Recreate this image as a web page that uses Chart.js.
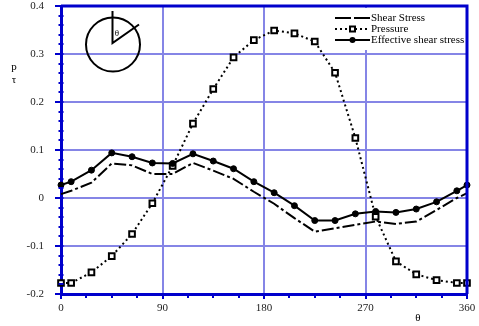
<!DOCTYPE html>
<html>
<head>
<meta charset="utf-8">
<script src="https://cdn.jsdelivr.net/npm/chart.js@4.4.1/dist/chart.umd.min.js"></script>
<style>
    html, body { margin: 0; padding: 0; background: #fff; }
    #contenedor { width: 479px; height: 326px; }
</style>
</head>
<body>
<div id="contenedor"><canvas id="grafico" width="479" height="326"></canvas></div>
<script>
// Datos
const angulos = [0, 9, 27, 45, 63, 81, 99, 117, 135, 153, 171, 189, 207, 225, 243, 261, 279, 297, 315, 333, 351, 360];
const cortante = [0.008, 0.015, 0.032, 0.072, 0.068, 0.050, 0.050, 0.073, 0.057, 0.040, 0.013, -0.012, -0.042, -0.070, -0.063, -0.056, -0.049, -0.054, -0.049, -0.025, 0.000, 0.010];
const presion = [-0.177, -0.177, -0.155, -0.121, -0.075, -0.011, 0.067, 0.155, 0.227, 0.293, 0.329, 0.349, 0.343, 0.326, 0.261, 0.125, -0.039, -0.132, -0.159, -0.171, -0.177, -0.177];
const cortanteEfectivo = [0.027, 0.034, 0.058, 0.094, 0.086, 0.073, 0.072, 0.092, 0.077, 0.061, 0.034, 0.011, -0.016, -0.047, -0.047, -0.033, -0.028, -0.030, -0.023, -0.008, 0.015, 0.027];
const ticksX = [0, 90, 180, 270, 360];
const ticksY = [-0.2, -0.1, 0, 0.1, 0.2, 0.3, 0.4];
const etiquetas = ['Shear Stress', 'Pressure', 'Effective shear stress'];

const fuente = 'Liberation Serif';
const azulEje = '#0000cc';
const azulGrilla = '#8585e6';

function puntos(valores) {
    return angulos.map((a, i) => ({ x: a, y: valores[i] }));
}

// Bordes, marcas menores, leyenda, esquema del circulo y rotulos
const decoracion = {
    id: 'decoracion',
    afterDraw(chart) {
        const ctx = chart.ctx;
        const area = chart.chartArea;
        const sx = chart.scales.x;
        const sy = chart.scales.y;

        ctx.save();
        // marcas menores
        ctx.strokeStyle = azulEje;
        ctx.lineWidth = 2;
        for (let v = -0.2; v <= 0.4001; v += 0.02) {
            const y = Math.round(sy.getPixelForValue(v));
            ctx.beginPath();
            ctx.moveTo(area.left - 2.5, y);
            ctx.lineTo(area.left + 2.5, y);
            ctx.stroke();
        }
        for (let v = 0; v <= 360; v += 22.5) {
            const x = Math.round(sx.getPixelForValue(v));
            ctx.beginPath();
            ctx.moveTo(x, area.bottom);
            ctx.lineTo(x, area.bottom + 4);
            ctx.stroke();
        }

        // leyenda
        ctx.fillStyle = '#fff';
        ctx.fillRect(333, 8, area.right - 334.5, 42);
        const metas = [0, 1, 2].map(i => chart.data.datasets[i]);
        metas.forEach((ds, i) => {
            const y = 18 + i * 11;
            ctx.strokeStyle = '#000';
            ctx.lineWidth = 2;
            ctx.setLineDash(i === 0 ? [16, 3] : (ds.borderDash || []));
            ctx.beginPath();
            ctx.moveTo(335, y);
            ctx.lineTo(370, y);
            ctx.stroke();
            ctx.setLineDash([]);
            if (i === 1) {
                ctx.fillStyle = '#000';
                ctx.fillRect(349, y - 3.5, 7, 7);
                ctx.fillStyle = '#fff';
                ctx.fillRect(351, y - 1.5, 3, 3);
            } else if (i === 2) {
                ctx.fillStyle = '#000';
                ctx.beginPath();
                ctx.arc(352.5, y, 3, 0, Math.PI * 2);
                ctx.fill();
            }
            ctx.fillStyle = '#000';
            ctx.font = '11px ' + fuente;
            ctx.textAlign = 'left';
            ctx.textBaseline = 'middle';
            ctx.fillText(etiquetas[i], 371, y);
        });

        // borde superior y derecho
        ctx.strokeStyle = azulEje;
        ctx.lineWidth = 3;
        ctx.beginPath();
        ctx.moveTo(area.left, area.top);
        ctx.lineTo(area.right, area.top);
        ctx.lineTo(area.right, area.bottom);
        ctx.stroke();

        // esquema del angulo
        ctx.strokeStyle = '#000';
        ctx.lineWidth = 2;
        ctx.beginPath();
        ctx.arc(113, 44.5, 27, 0, Math.PI * 2);
        ctx.stroke();
        ctx.beginPath();
        ctx.moveTo(112.5, 11);
        ctx.lineTo(112.5, 43);
        ctx.lineTo(139, 24.5);
        ctx.stroke();
        ctx.fillStyle = '#000';
        ctx.font = '9px ' + fuente;
        ctx.textAlign = 'center';
        ctx.textBaseline = 'middle';
        ctx.fillText('θ', 117, 34);

        // rotulos de ejes
        ctx.font = '11px ' + fuente;
        ctx.fillText('p', 14, 67);
        ctx.fillText('τ', 14, 80);
        ctx.fillText('θ', 418, 318);
        ctx.restore();
    }
};

new Chart(document.getElementById('grafico'), {
    type: 'line',
    data: {
        datasets: [{
            label: etiquetas[0],
            data: puntos(cortante),
            borderColor: '#000',
            borderWidth: 2,
            borderDash: [12, 3, 3, 3],
            pointRadius: 0,
            order: 1,
            clip: false
        }, {
            label: etiquetas[1],
            data: puntos(presion),
            borderColor: '#000',
            borderWidth: 2,
            borderDash: [2, 3],
            pointStyle: 'rect',
            pointRadius: 4,
            pointBorderWidth: 2,
            pointBackgroundColor: '#fff',
            pointBorderColor: '#000',
            order: 2,
            clip: false
        }, {
            label: etiquetas[2],
            data: puntos(cortanteEfectivo),
            borderColor: '#000',
            borderWidth: 2,
            pointRadius: 3,
            pointBorderWidth: 1,
            pointBackgroundColor: '#000',
            pointBorderColor: '#000',
            order: 0,
            clip: false
        }]
    },
    options: {
        responsive: false,
        animation: false,
        layout: { padding: { left: 0, right: 12, top: 5, bottom: 0 } },
        plugins: {
            legend: { display: false },
            tooltip: { enabled: false }
        },
        scales: {
            x: {
                type: 'linear',
                min: 0,
                max: 360,
                afterBuildTicks: s => { s.ticks = ticksX.map(v => ({ value: v })); },
                afterFit: s => { s.height = 32; s.paddingLeft = 0; s.paddingRight = 0; },
                grid: { color: azulGrilla, lineWidth: 2, tickColor: azulEje, tickWidth: 2, tickLength: 5 },
                border: { color: azulEje, width: 3 },
                ticks: { color: '#222', font: { family: fuente, size: 11 }, padding: 3, maxRotation: 0 }
            },
            y: {
                type: 'linear',
                min: -0.2,
                max: 0.4,
                afterBuildTicks: s => { s.ticks = ticksY.map(v => ({ value: v })); },
                afterFit: s => { s.width = 61; s.paddingTop = 0; s.paddingBottom = 0; },
                grid: { color: azulGrilla, lineWidth: 2, tickColor: azulEje, tickWidth: 2, tickLength: 6 },
                border: { color: azulEje, width: 3 },
                ticks: {
                    color: '#222',
                    font: { family: fuente, size: 11 },
                    padding: 11,
                    callback: v => Math.abs(v) < 1e-9 ? '0' : v.toFixed(1)
                }
            }
        }
    },
    plugins: [decoracion]
});
</script>
</body>
</html>
